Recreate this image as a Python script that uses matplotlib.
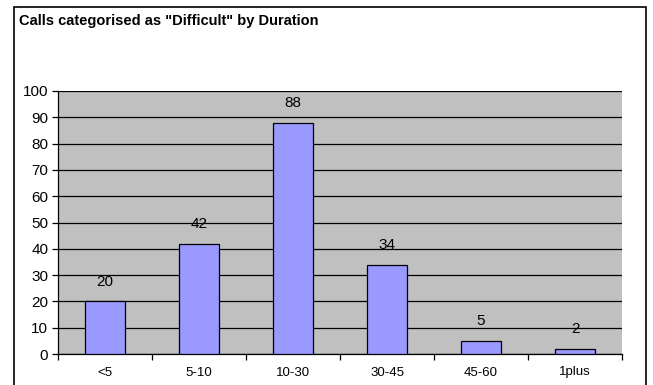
import matplotlib
matplotlib.use("Agg")
import matplotlib.pyplot as plt
from matplotlib.patches import Rectangle

plt.rcParams['font.family'] = ['Liberation Sans', 'DejaVu Sans']

categories = ["<5", "5-10", "10-30", "30-45", "45-60", "1plus"]
counts = [20, 42, 88, 34, 5, 2]
y_ticks = list(range(0, 101, 10))
title = 'Calls categorised as "Difficult" by Duration'

W, H = 653, 385
fig = plt.figure(figsize=(W / 100, H / 100), dpi=100)
fig.patch.set_facecolor("white")

# chart frame (open at the bottom edge of the canvas)
fig.patches.append(Rectangle((14 / W, -0.05), (646 - 14) / W, 1.05 - 7 / H,
                             transform=fig.transFigure, fill=False,
                             edgecolor="black", linewidth=1.2, clip_on=False))

left, right, top, bottom = 58, 622, 91, 354
ax = fig.add_axes([left / W, 1 - bottom / H, (right - left) / W, (bottom - top) / H])
ax.set_facecolor("#C0C0C0")

x = list(range(len(categories)))
bars = ax.bar(x, counts, width=0.42, color="#9999FF", edgecolor="black",
              linewidth=0.9, zorder=3)
for xi, v in zip(x, counts):
    ax.annotate(str(v), (xi, v), xytext=(0, 9), textcoords="offset points",
                ha="center", va="bottom", fontsize=11)

ax.set_xlim(-0.5, len(categories) - 0.5)
ax.set_ylim(0, 100)
ax.set_yticks(y_ticks)
ax.yaxis.grid(True, color="black", linewidth=0.9, zorder=1)
ax.set_axisbelow(True)
ax.tick_params(axis="y", labelsize=11, length=4, width=0.9, direction="out", pad=3)

# category labels centered, ticks at category boundaries
ax.set_xticks(x)
ax.set_xticklabels(categories, fontsize=9.5)
ax.tick_params(axis="x", which="major", length=0, pad=9)
ax.set_xticks([i + 0.5 for i in range(-1, len(categories))], minor=True)
ax.tick_params(axis="x", which="minor", length=4, width=0.9, direction="out")

for side in ("top", "right"):
    ax.spines[side].set_visible(False)
for side in ("left", "bottom"):
    ax.spines[side].set_linewidth(0.9)

fig.text(19 / W, 1 - 21 / H, title, fontsize=10.5, fontweight="bold",
         ha="left", va="center")

fig.savefig("out.png", dpi=100)
